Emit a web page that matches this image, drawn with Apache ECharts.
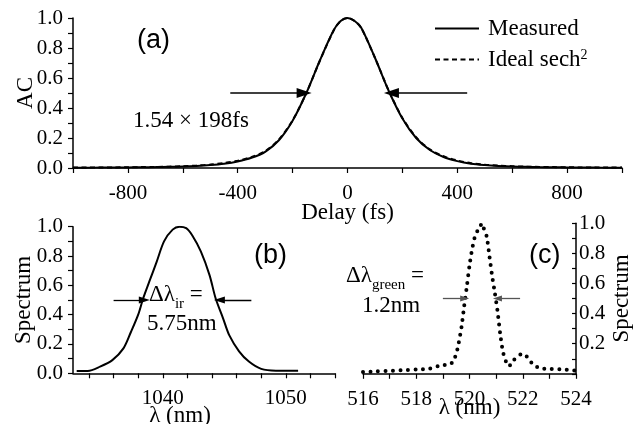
<!DOCTYPE html>
<html><head><meta charset="utf-8">
<script src="https://cdn.jsdelivr.net/npm/echarts@6/dist/echarts.min.js"></script>
<style>html,body{margin:0;padding:0;background:#fff}#c{width:636px;height:424px}</style>
</head><body><div id="c"></div>
<script>
// (a) autocorrelation
const delayFs    = [-1000,-950,-900,-850,-800,-750,-700,-650,-600,-550,-500,-450,-400,-350,-300,-250,-200,-150,-100,-50,-25,0,25,50,100,150,200,250,300,350,400,450,500,550,600,650,700,750,800,850,900,950,1000];
const acMeasured = [0.002,0.002,0.003,0.003,0.004,0.005,0.006,0.008,0.010,0.014,0.020,0.029,0.044,0.068,0.108,0.185,0.315,0.500,0.720,0.920,0.980,1.000,0.982,0.935,0.735,0.515,0.330,0.200,0.120,0.073,0.046,0.029,0.020,0.014,0.010,0.008,0.006,0.005,0.004,0.003,0.003,0.002,0.002];
const acIdeal    = [0.003,0.003,0.004,0.004,0.005,0.006,0.007,0.009,0.012,0.016,0.023,0.033,0.048,0.073,0.112,0.190,0.318,0.500,0.718,0.918,0.980,1.000,0.981,0.933,0.735,0.517,0.334,0.205,0.124,0.078,0.050,0.032,0.022,0.016,0.012,0.009,0.007,0.006,0.005,0.004,0.004,0.003,0.003];
// (b) IR spectrum
const irWavelength = [1033.0,1033.9,1034.9,1035.9,1036.8,1037.4,1038.0,1038.4,1038.9,1039.5,1040.1,1040.8,1041.35,1041.9,1042.4,1043.1,1043.8,1044.3,1044.9,1045.4,1046.2,1047.0,1048.0,1049.2,1051.0];
const irSpectrum   = [0.016,0.016,0.045,0.09,0.17,0.28,0.40,0.51,0.625,0.76,0.90,0.98,1.0,0.99,0.94,0.83,0.67,0.51,0.375,0.26,0.15,0.08,0.03,0.018,0.018];
// (c) green spectrum
const greenWavelength = [516.0,516.5,517.0,517.5,518.0,518.5,518.8,519.0,519.2,519.35,519.5,519.6,519.7,519.8,519.9,520.0,520.1,520.2,520.3,520.4,520.45,520.55,520.65,520.75,520.85,520.95,521.05,521.15,521.25,521.35,521.48,521.65,521.85,521.98,522.15,522.4,522.7,523.0,523.5,524.0];
const greenSpectrum   = [0.012,0.016,0.02,0.024,0.028,0.035,0.05,0.06,0.055,0.075,0.13,0.21,0.31,0.45,0.58,0.72,0.83,0.91,0.95,0.97,1.0,0.96,0.91,0.78,0.65,0.54,0.42,0.27,0.15,0.09,0.05,0.09,0.12,0.135,0.115,0.06,0.035,0.033,0.03,0.02];
// ticks / labels
const aXTicks  = [-1000,-800,-600,-400,-200,0,200,400,600,800,1000];
const aXLabels = [-800,-400,0,400,800];
const yTicks   = [0,0.1,0.2,0.3,0.4,0.5,0.6,0.7,0.8,0.9,1.0];
const yLabels  = [0,0.2,0.4,0.6,0.8,1.0];
const cYLabels = [0.2,0.4,0.6,0.8,1.0];
const bXTicks  = [1034,1036,1038,1040,1042,1044,1046,1048,1050,1052,1054];
const bXLabels = [1040,1050];
const cXTicks  = [516,517,518,519,520,521,522,523,524];
const cXLabels = [516,518,520,522,524];

const SERIF = 'Liberation Serif';
const SANS = 'Liberation Sans';
const BLK = '#000';
const zip = (a,b)=>a.map((v,i)=>[v,b[i]]);
const f1 = v => Number(v).toFixed(1);
const fInt = v => String(Math.round(v));

function xAx(grid,min,max,ticks,labels,name,nameGap,namePad){
  return {type:'value',gridIndex:grid,min:min,max:max,
    axisLine:{show:true,onZero:false,lineStyle:{color:BLK,width:1.5}},
    axisTick:{show:true,customValues:ticks,length:5,lineStyle:{color:BLK,width:1.2}},
    axisLabel:{show:true,customValues:labels,formatter:fInt,color:BLK,fontFamily:SERIF,fontSize:21,margin:15},
    splitLine:{show:false},
    name:name,nameLocation:'middle',nameGap:nameGap,nameMoveOverlap:false,
    nameTextStyle:{color:BLK,fontFamily:SERIF,fontSize:23,padding:namePad||0}};
}
function yAx(grid,min,max,labels,name,nameGap,pos){
  const right = pos==='right';
  return {type:'value',gridIndex:grid,min:min,max:max,position:pos||'left',
    axisLine:{show:true,onZero:false,lineStyle:{color:BLK,width:1.5}},
    axisTick:{show:true,customValues:yTicks,length:right?4:5,inside:right,lineStyle:{color:BLK,width:1.2}},
    axisLabel:{show:true,customValues:labels,formatter:f1,color:BLK,fontFamily:SERIF,fontSize:21,margin:right?3:10},
    splitLine:{show:false},
    name:name,nameLocation:'middle',nameGap:nameGap,nameRotate:90,nameMoveOverlap:false,
    nameTextStyle:{color:BLK,fontFamily:SERIF,fontSize:23}};
}
function arrow(from,to,color,size){
  return [{coord:from,symbol:'none'},{coord:to,symbol:'triangle',symbolSize:size,lineStyle:{color:color}}];
}

const chart = echarts.init(document.getElementById('c'),null,{renderer:'canvas',width:636,height:424});
chart.setOption({
  animation:false,
  backgroundColor:'#fff',
  grid:[
    {left:73,top:18,width:549,height:150,containLabel:false,outerBoundsMode:'none'},
    {left:73,top:226.7,width:262,height:146.6,containLabel:false,outerBoundsMode:'none'},
    {left:363,top:223.3,width:213,height:150.5,containLabel:false,outerBoundsMode:'none'}
  ],
  xAxis:[
    xAx(0,-1000,1000,aXTicks,aXLabels,'Delay (fs)',33),
    xAx(1,1032.7,1054,bXTicks,bXLabels,'λ (nm)',31,[0,48,0,0]),
    xAx(2,516,524,cXTicks,cXLabels,'λ (nm)',23)
  ],
  yAxis:[
    yAx(0,0,1,yLabels,'AC',36),
    yAx(1,0,1,yLabels,'Spectrum',38),
    yAx(2,0,1,cYLabels,'Spectrum',34,'right')
  ],
  legend:{
    show:true,orient:'vertical',left:429,top:12,itemWidth:44,itemHeight:12,itemGap:8,
    itemStyle:{opacity:0},
    data:['Measured','Ideal sech2'],
    formatter:n=> n==='Ideal sech2' ? '{t|Ideal sech}{s|2}' : '{t|'+n+'}',
    textStyle:{color:BLK,fontFamily:SERIF,fontSize:23,padding:[0,0,0,4],
      rich:{t:{fontFamily:SERIF,fontSize:23,color:BLK},s:{fontFamily:SERIF,fontSize:14,color:BLK,verticalAlign:'top'}}}
  },
  series:[
    {name:'Measured',type:'line',xAxisIndex:0,yAxisIndex:0,data:zip(delayFs,acMeasured),symbol:'none',smooth:0.3,
      lineStyle:{color:BLK,width:2},itemStyle:{color:BLK},
      markLine:{silent:true,animation:false,label:{show:false},lineStyle:{color:BLK,width:1.5,type:'solid'},
        data:[arrow([-427,0.5],[-158,0.5],BLK,[10,15]),arrow([436,0.5],[160,0.5],BLK,[10,15])]}},
    {name:'Ideal sech2',type:'line',xAxisIndex:0,yAxisIndex:0,data:zip(delayFs,acIdeal),symbol:'none',smooth:0.3,
      lineStyle:{color:BLK,width:2,type:[5,3.5]},itemStyle:{color:BLK}},
    {name:'ir',type:'line',xAxisIndex:1,yAxisIndex:1,data:zip(irWavelength,irSpectrum),symbol:'none',smooth:0.3,
      lineStyle:{color:BLK,width:2},
      markLine:{silent:true,animation:false,label:{show:false},lineStyle:{color:BLK,width:1.3,type:'solid'},
        data:[arrow([1036.0,0.5],[1038.5,0.5],BLK,[7,11]),arrow([1047.2,0.5],[1044.6,0.5],BLK,[7,11])]}},
    {name:'green',type:'line',xAxisIndex:2,yAxisIndex:2,data:zip(greenWavelength,greenSpectrum),symbol:'none',smooth:0.2,
      lineStyle:{color:BLK,width:4,type:[0,7.5],cap:'round'},
      markLine:{silent:true,animation:false,label:{show:false},lineStyle:{color:'#555',width:1.3,type:'solid'},
        data:[arrow([519.0,0.5],[519.82,0.5],'#555',[6,9]),arrow([521.9,0.5],[521.05,0.5],'#555',[6,9])]}}
  ],
  graphic:[
    {type:'text',left:137,top:27,style:{text:'(a)',font:'27px '+SANS,fill:BLK}},
    {type:'text',left:254,top:242,style:{text:'(b)',font:'27px '+SANS,fill:BLK}},
    {type:'text',left:529,top:242,style:{text:'(c)',font:'27px '+SANS,fill:BLK}},
    {type:'text',left:133,top:109,style:{text:'1.54 × 198fs',font:'23px '+SERIF,fill:BLK}},
    {type:'text',left:149,top:283,style:{text:'{m|Δλ}{s|ir}{m| =}',rich:{m:{font:'23px '+SERIF,fill:BLK},s:{font:'15px '+SERIF,fill:BLK,verticalAlign:'bottom',padding:[0,0,-6,0]}}}},
    {type:'text',left:147,top:312,style:{text:'5.75nm',font:'23px '+SERIF,fill:BLK}},
    {type:'text',left:346,top:264,style:{text:'{m|Δλ}{s|green}{m| =}',rich:{m:{font:'23px '+SERIF,fill:BLK},s:{font:'15px '+SERIF,fill:BLK,verticalAlign:'bottom',padding:[0,0,-6,0]}}}},
    {type:'text',left:362,top:294,style:{text:'1.2nm',font:'23px '+SERIF,fill:BLK}}
  ]
});
</script></body></html>
